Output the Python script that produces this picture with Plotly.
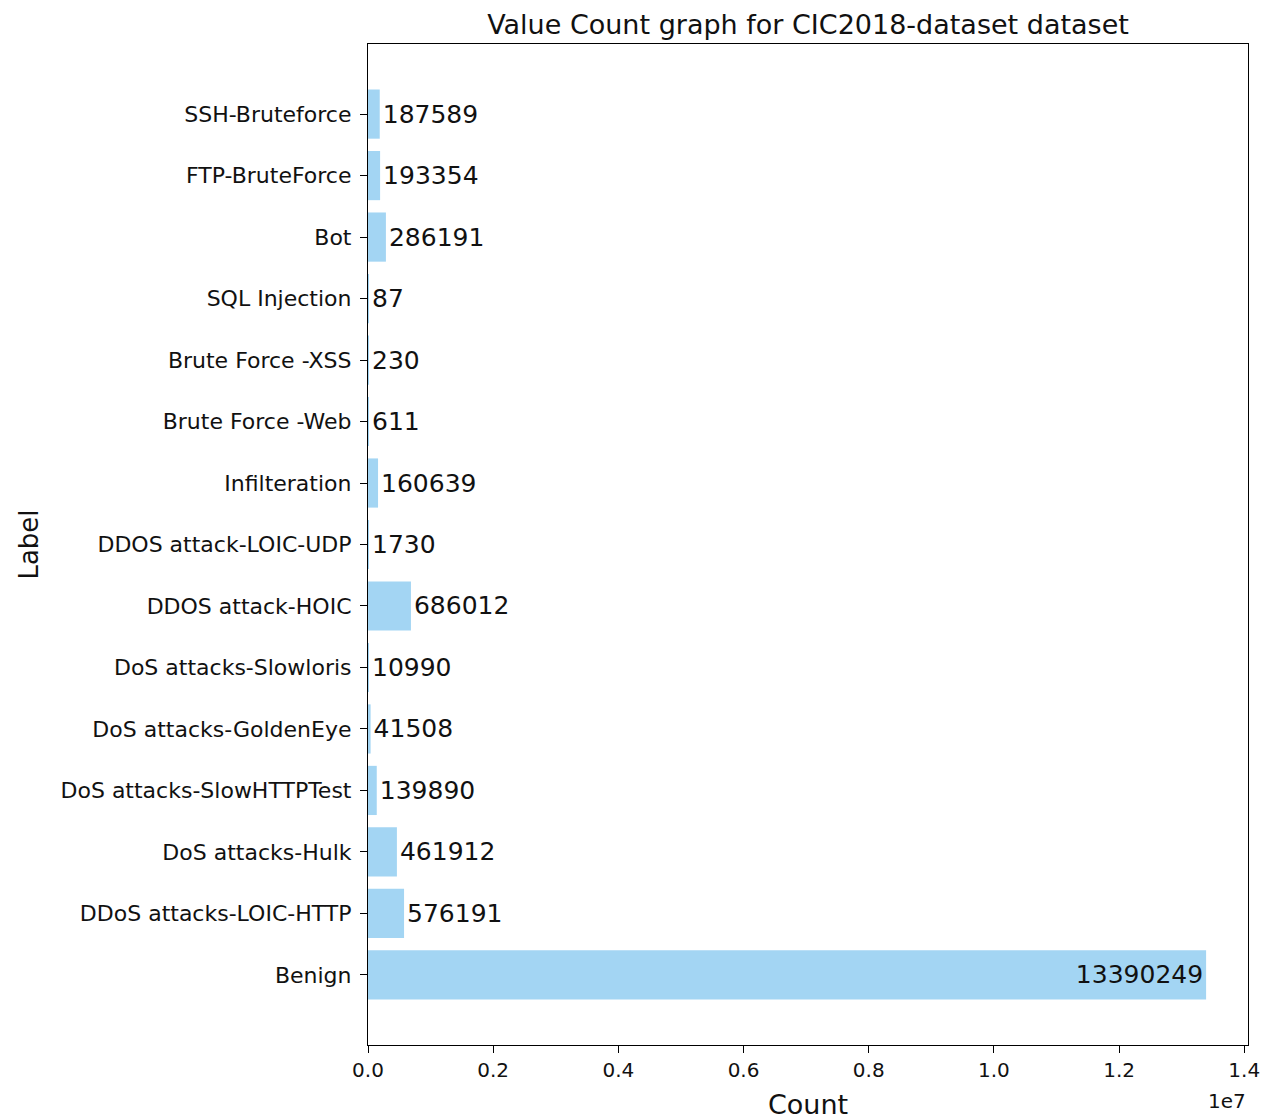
import plotly.graph_objects as go

labels = ["Benign", "DDoS attacks-LOIC-HTTP", "DoS attacks-Hulk", "DoS attacks-SlowHTTPTest",
          "DoS attacks-GoldenEye", "DoS attacks-Slowloris", "DDOS attack-HOIC", "DDOS attack-LOIC-UDP",
          "Infilteration", "Brute Force -Web", "Brute Force -XSS", "SQL Injection", "Bot",
          "FTP-BruteForce", "SSH-Bruteforce"]
counts = [13390249, 576191, 461912, 139890, 41508, 10990, 686012, 1730,
          160639, 611, 230, 87, 286191, 193354, 187589]
x_tick_vals = [0, 2e6, 4e6, 6e6, 8e6, 10e6, 12e6, 14e6]
x_tick_text = ["0.0", "0.2", "0.4", "0.6", "0.8", "1.0", "1.2", "1.4"]

FONT = "DejaVu Sans"
vmax = max(counts)
positions = ["inside" if c == vmax else "outside" for c in counts]

fig = go.Figure(go.Bar(
    x=counts, y=labels, orientation="h",
    marker=dict(color="#A3D5F3", line=dict(width=0)),
    width=0.8,
    text=[str(c) for c in counts],
    textposition=positions,
    insidetextanchor="end",
    constraintext="none",
    cliponaxis=False,
    textfont=dict(family=FONT, size=25, color="#111111"),
))

fig.update_layout(
    width=1281, height=1120,
    paper_bgcolor="white", plot_bgcolor="white",
    margin=dict(l=360, r=41, t=36, b=83),
    font=dict(family=FONT, color="#111111"),
    showlegend=False,
    title=dict(text="Value Count graph for CIC2018-dataset dataset", x=0.5, xref="paper",
               xanchor="center", y=1 - 7 / 1120, yref="container", yanchor="top",
               font=dict(family=FONT, size=27, color="#111111")),
)

fig.update_xaxes(
    range=[0, vmax * 1.05], tickvals=x_tick_vals, ticktext=x_tick_text,
    showgrid=False, zeroline=False, showline=True, linecolor="black", linewidth=1.2, mirror=True,
    ticks="outside", ticklen=7, tickcolor="black", tickwidth=1.2,
    tickfont=dict(family=FONT, size=20, color="#111111"),
    title=dict(text="Count", font=dict(family=FONT, size=27, color="#111111"), standoff=14),
)
fig.update_yaxes(
    range=[-1.14, 15.14], categoryorder="array", categoryarray=labels,
    showgrid=False, zeroline=False, showline=True, linecolor="black", linewidth=1.2, mirror=True,
    ticks="outside", ticklen=7, tickcolor="black", tickwidth=1.2, ticklabelstandoff=4,
    tickfont=dict(family=FONT, size=22, color="#111111"),
    title=dict(text="Label", font=dict(family=FONT, size=26, color="#111111"), standoff=14),
)

fig.add_annotation(text="1e7", xref="paper", yref="paper", x=1.0, y=0, xanchor="right",
                   yanchor="top", yshift=-42, showarrow=False,
                   font=dict(family=FONT, size=20, color="#111111"))

fig.write_html("out.html")
